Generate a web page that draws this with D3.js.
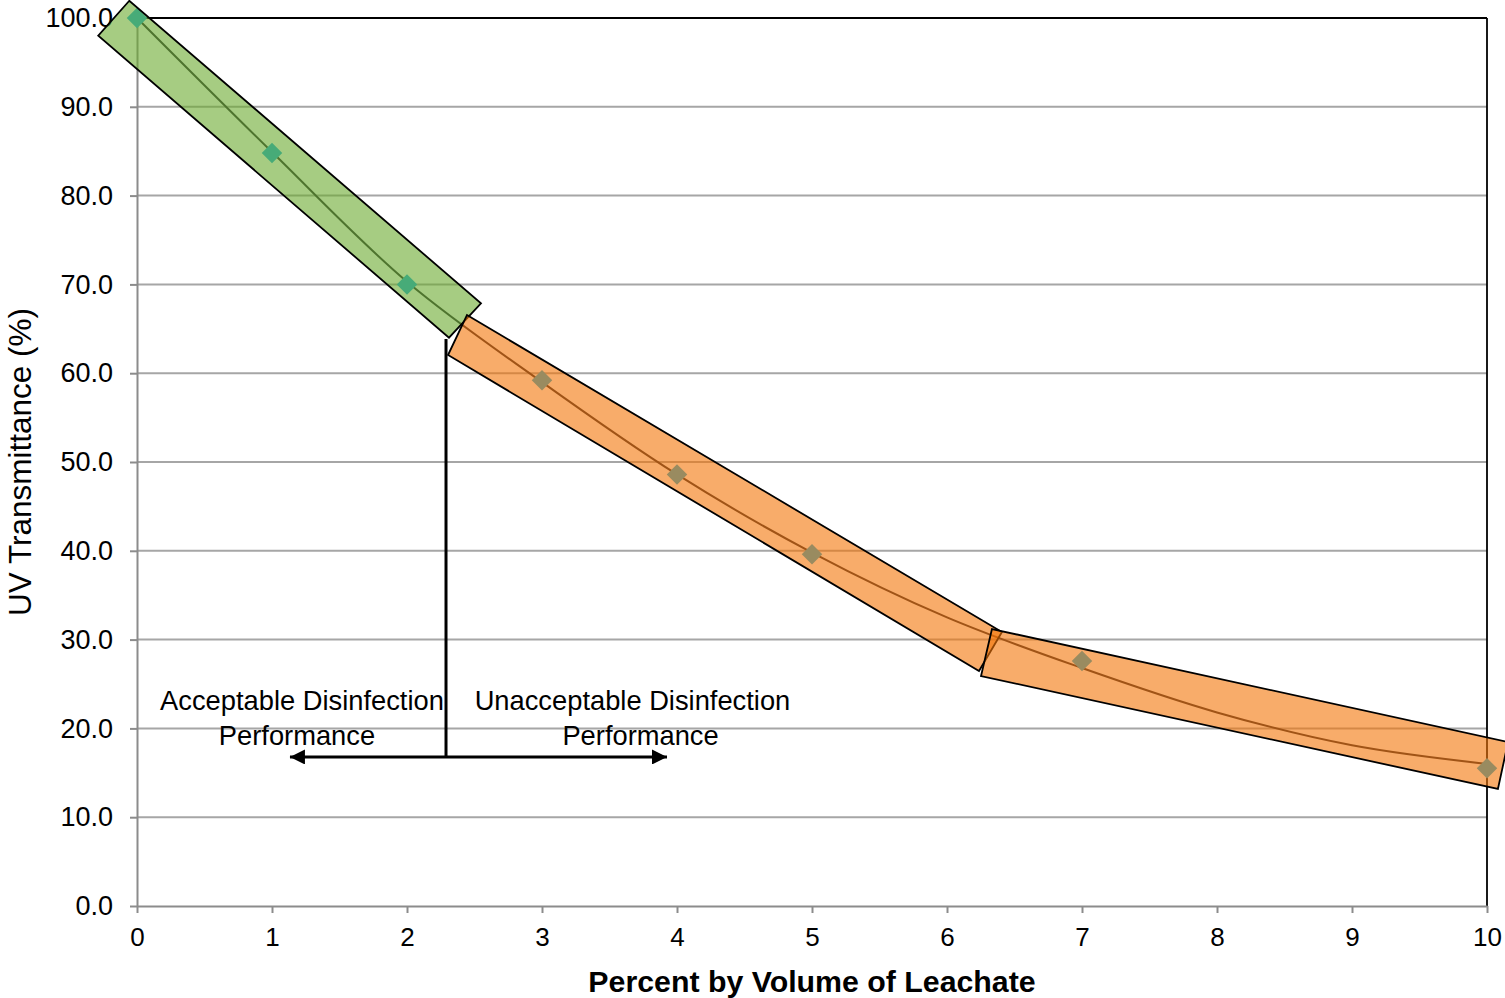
<!DOCTYPE html>
<html>
<head>
<meta charset="utf-8">
<script src="https://cdn.jsdelivr.net/npm/d3@7"></script>
<style>
  html, body { margin: 0; padding: 0; background: #fff; }
  svg { display: block; }
</style>
</head>
<body>
<svg id="chart" width="1505" height="998"></svg>
<script>
// ---- data ----
const xValues = [0, 1, 2, 3, 4, 5, 7, 10];
const uvtValues = [100.0, 84.8, 70.0, 59.2, 48.6, 39.6, 27.6, 15.5];

// trend curve
const trendX = [0, 1, 2, 3, 4, 5, 6, 7, 8, 9, 10];
const trendY = [100.0, 84.9, 70.3, 59.0, 48.6, 39.8, 32.5, 26.8, 21.8, 18.1, 16.0];

const xTicks = [0, 1, 2, 3, 4, 5, 6, 7, 8, 9, 10];
const yTicks = [0, 10, 20, 30, 40, 50, 60, 70, 80, 90, 100];

// highlight bands (corners in data units)
const greenBand = [[-0.057, 101.94], [-0.287, 98.0], [2.311, 64.0], [2.548, 67.87]];
const orangeBand1 = [[2.444, 66.55], [2.304, 62.05], [6.237, 26.46], [6.407, 30.86]];
const orangeBand2 = [[6.333, 31.19], [6.252, 25.90], [10.081, 13.18], [10.156, 18.47]];

// threshold annotation
const thresholdX = 2.289;
const thresholdTop = 63.85;
const arrowY = 16.78;
const arrowLeft = 1.133;
const arrowRight = 3.926;

const labelsLeft = [
  { text: "Acceptable Disinfection", x: 1.222, y: 22.07 },
  { text: "Performance", x: 1.185, y: 18.13 }
];
const labelsRight = [
  { text: "Unacceptable Disinfection", x: 3.670, y: 22.07 },
  { text: "Performance", x: 3.730, y: 18.13 }
];

const xTitle = "Percent by Volume of Leachate";
const yTitle = "UV Transmittance (%)";

// ---- drawing ----
const svg = d3.select("#chart");
const W = 1505, H = 998;
const margin = { left: 137, right: 18, top: 18, bottom: 92 };

const x = d3.scaleLinear().domain([0, 10]).range([margin.left, W - margin.right]);
const y = d3.scaleLinear().domain([0, 100]).range([H - margin.bottom, margin.top]);

svg.append("rect").attr("width", W).attr("height", H).attr("fill", "#fff");

const FONT = "'Liberation Sans', Arial, sans-serif";

// gridlines
svg.append("g")
  .selectAll("line")
  .data(yTicks.filter(d => d > 0 && d < 100))
  .join("line")
  .attr("x1", x(0)).attr("x2", x(10))
  .attr("y1", d => y(d)).attr("y2", d => y(d))
  .attr("stroke", "#a6a6a6").attr("stroke-width", 2);

// top & right border
svg.append("line")
  .attr("x1", x(0)).attr("x2", x(10)).attr("y1", y(100)).attr("y2", y(100))
  .attr("stroke", "#000").attr("stroke-width", 1.8);
svg.append("line")
  .attr("x1", x(10)).attr("x2", x(10)).attr("y1", y(100)).attr("y2", y(0))
  .attr("stroke", "#000").attr("stroke-width", 1.8);

// axes
const xAxis = svg.append("g")
  .attr("transform", `translate(0,${y(0)})`)
  .call(d3.axisBottom(x).tickValues(xTicks).tickFormat(d3.format("d")).tickSizeInner(7).tickSizeOuter(0).tickPadding(15));
xAxis.select(".domain").attr("stroke", "#8c8c8c").attr("stroke-width", 2);
xAxis.selectAll(".tick line").attr("stroke", "#8c8c8c").attr("stroke-width", 2);
xAxis.selectAll(".tick text").attr("font-family", FONT).attr("font-size", 26).attr("fill", "#000");

const yAxis = svg.append("g")
  .attr("transform", `translate(${x(0)},0)`)
  .call(d3.axisLeft(y).tickValues(yTicks).tickFormat(d3.format(".1f")).tickSizeInner(7).tickSizeOuter(0).tickPadding(17));
yAxis.select(".domain").attr("stroke", "#8c8c8c").attr("stroke-width", 2);
yAxis.selectAll(".tick line").attr("stroke", "#8c8c8c").attr("stroke-width", 2);
yAxis.selectAll(".tick text").attr("font-family", FONT).attr("font-size", 27).attr("fill", "#000");

// trend line
const line = d3.line().x(d => x(d[0])).y(d => y(d[1])).curve(d3.curveCatmullRom.alpha(0.5));
svg.append("path")
  .datum(trendX.map((d, i) => [d, trendY[i]]))
  .attr("d", line)
  .attr("fill", "none")
  .attr("stroke", "rgb(37,35,47)")
  .attr("stroke-width", 2);

// markers
svg.append("g")
  .selectAll("path")
  .data(xValues.map((d, i) => [d, uvtValues[i]]))
  .join("path")
  .attr("d", d3.symbol(d3.symbolSquare, 210))
  .attr("transform", d => `translate(${x(d[0])},${y(d[1])}) rotate(45)`)
  .attr("fill", "rgb(18,172,229)");

// bands
const poly = pts => "M" + pts.map(p => `${x(p[0])},${y(p[1])}`).join("L") + "Z";
svg.append("path").attr("d", poly(greenBand))
  .attr("fill", "rgb(107,170,47)").attr("fill-opacity", 0.6)
  .attr("stroke", "#000").attr("stroke-width", 1.8);
svg.append("path").attr("d", poly(orangeBand1))
  .attr("fill", "rgb(243,117,7)").attr("fill-opacity", 0.6)
  .attr("stroke", "#000").attr("stroke-width", 1.8);
svg.append("path").attr("d", poly(orangeBand2))
  .attr("fill", "rgb(243,117,7)").attr("fill-opacity", 0.6)
  .attr("stroke", "#000").attr("stroke-width", 1.8);

// threshold annotation
svg.append("line")
  .attr("x1", x(thresholdX)).attr("x2", x(thresholdX))
  .attr("y1", y(thresholdTop)).attr("y2", y(arrowY))
  .attr("stroke", "#000").attr("stroke-width", 3);

const defs = svg.append("defs");
defs.append("marker")
  .attr("id", "arrowhead")
  .attr("viewBox", "0 0 10 10")
  .attr("refX", 10).attr("refY", 5)
  .attr("markerUnits", "userSpaceOnUse")
  .attr("markerWidth", 17).attr("markerHeight", 15)
  .attr("orient", "auto-start-reverse")
  .append("path").attr("d", "M0,0L10,5L0,10Z").attr("fill", "#000");

svg.append("line")
  .attr("x1", x(arrowLeft)).attr("x2", x(arrowRight))
  .attr("y1", y(arrowY)).attr("y2", y(arrowY))
  .attr("stroke", "#000").attr("stroke-width", 3)
  .attr("marker-start", "url(#arrowhead)")
  .attr("marker-end", "url(#arrowhead)");

svg.append("g")
  .selectAll("text")
  .data(labelsLeft.concat(labelsRight))
  .join("text")
  .attr("x", d => x(d.x)).attr("y", d => y(d.y))
  .attr("text-anchor", "middle")
  .attr("font-family", FONT).attr("font-size", 27.3)
  .attr("fill", "#000")
  .text(d => d.text);

// axis titles
svg.append("text")
  .attr("x", (x(0) + x(10)) / 2).attr("y", 992)
  .attr("text-anchor", "middle")
  .attr("font-family", FONT).attr("font-size", 30.3).attr("font-weight", "bold")
  .attr("fill", "#000")
  .text(xTitle);

svg.append("text")
  .attr("transform", `translate(31,${(y(0) + y(100)) / 2 + 0}) rotate(-90)`)
  .attr("text-anchor", "middle")
  .attr("font-family", FONT).attr("font-size", 31.5)
  .attr("fill", "#000")
  .text(yTitle);
</script>
</body>
</html>
